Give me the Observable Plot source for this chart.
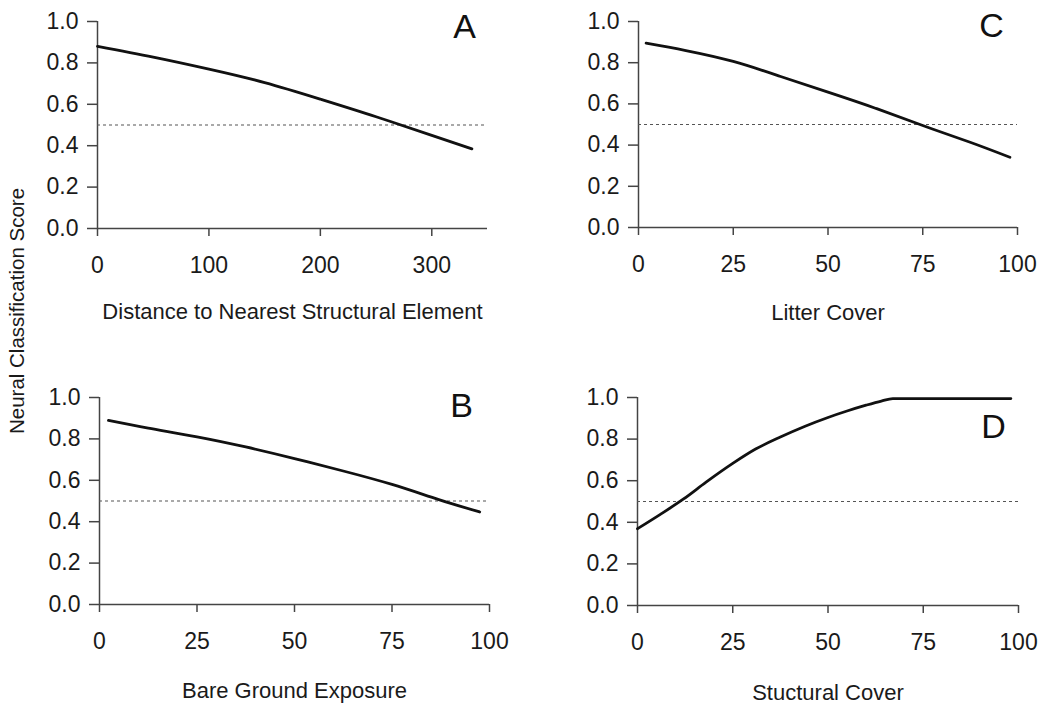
<!DOCTYPE html>
<html><head><meta charset="utf-8">
<script src="https://cdn.jsdelivr.net/npm/d3@7"></script>
<script src="https://cdn.jsdelivr.net/npm/@observablehq/plot@0.6"></script>
<style>
body{margin:0;background:#fff;}
#wrap{position:relative;width:1049px;height:705px;background:#fff;font-family:"Liberation Sans",Arial,sans-serif;overflow:hidden;}
.panel{position:absolute;}
#ylab{position:absolute;left:17px;top:311px;transform:translate(-50%,-50%) rotate(-90deg);font-size:20.5px;white-space:nowrap;color:#1a1a1a;}
</style></head><body>
<div id="wrap"><div id="ylab">Neural Classification Score</div></div>
<script>
// Panel A: Distance to Nearest Structural Element
const distanceX = [0, 50, 100, 150, 200, 250, 300, 336];
const distanceY = [0.88, 0.828, 0.77, 0.705, 0.625, 0.54, 0.45, 0.385];
const distanceTicks = [0, 100, 200, 300];

// Panel C: Litter Cover
const litterX = [2, 12.5, 25, 37.5, 50, 62.5, 75, 87.5, 98];
const litterY = [0.895, 0.859, 0.806, 0.733, 0.657, 0.579, 0.495, 0.414, 0.341];

// Panel B: Bare Ground Exposure
const bareX = [2.3, 12.5, 25, 37.5, 50, 62.5, 75, 87, 97.5];
const bareY = [0.889, 0.852, 0.81, 0.761, 0.705, 0.645, 0.58, 0.507, 0.447];

// Panel D: Stuctural Cover
const structX = [0, 6, 12, 18, 25, 31, 37.5, 44, 50, 55, 60, 64, 67, 80, 98];
const structY = [0.369, 0.438, 0.511, 0.593, 0.683, 0.752, 0.81, 0.862, 0.904, 0.935, 0.963, 0.983, 0.995, 0.995, 0.995];

const percentTicks = [0, 25, 50, 75, 100];
const scoreTicks = [0, 0.2, 0.4, 0.6, 0.8, 1.0];
const threshold = 0.5;

const panels = [
  {letter:"A", label:"Distance to Nearest Structural Element", xs:distanceX, ys:distanceY, domain:[0,350], ticks:distanceTicks, curve:"natural",
   left:0, top:0, width:524, height:340, mt:21, mb:112, ml:97, mr:37, ldx:-23, ldy:-8, labDy:90},
  {letter:"C", label:"Litter Cover", xs:litterX, ys:litterY, domain:[0,100], ticks:percentTicks, curve:"natural",
   left:524, top:0, width:525, height:340, mt:21, mb:113, ml:114, mr:32, ldx:-26, ldy:-9, labDy:92},
  {letter:"B", label:"Bare Ground Exposure", xs:bareX, ys:bareY, domain:[0,100], ticks:percentTicks, curve:"natural",
   left:0, top:350, width:524, height:355, mt:47, mb:101, ml:99, mr:35, ldx:-28, ldy:-5, labDy:93},
  {letter:"D", label:"Stuctural Cover", xs:structX, ys:structY, domain:[0,100], ticks:percentTicks, curve:"monotone-x",
   left:524, top:350, width:525, height:355, mt:47, mb:100, ml:113, mr:31, ldx:-25, ldy:16, labDy:94}
];

const wrap = document.getElementById("wrap");
for (const p of panels) {
  const data = p.xs.map((x, i) => ({x, y: p.ys[i]}));
  const chart = Plot.plot({
    width: p.width, height: p.height,
    marginTop: p.mt, marginBottom: p.mb, marginLeft: p.ml, marginRight: p.mr,
    x: {domain: p.domain},
    y: {domain: [0, 1]},
    style: {fontFamily: '"Liberation Sans", Arial, sans-serif', fontSize: "23px", color: "#1a1a1a", background: "transparent", overflow: "visible"},
    marks: [
      Plot.axisX({ticks: p.ticks, tickSize: 8, tickPadding: 20, label: null, stroke: "#444", strokeWidth: 1.5, fontSize: 23}),
      Plot.axisY({ticks: scoreTicks, tickSize: 10, tickPadding: 9, tickFormat: d3.format(".1f"), label: null, stroke: "#444", strokeWidth: 1.5, fontSize: 23}),
      Plot.ruleY([0], {stroke: "#444", strokeWidth: 1.5}),
      Plot.ruleX([0], {stroke: "#444", strokeWidth: 1.5}),
      Plot.ruleY([threshold], {stroke: "#555", strokeWidth: 1.2, strokeDasharray: "3,3"}),
      Plot.line(data, {x: "x", y: "y", curve: p.curve, stroke: "#111", strokeWidth: 2.8}),
      Plot.text([p.letter], {frameAnchor: "top-right", dx: p.ldx, dy: p.ldy, textAnchor: "middle", lineAnchor: "top", fontSize: 34, fill: "#111"}),
      Plot.text([p.label], {frameAnchor: "bottom", dy: p.labDy, lineAnchor: "bottom", fontSize: 22, fill: "#1a1a1a"})
    ]
  });
  chart.classList.add("panel");
  chart.style.left = p.left + "px";
  chart.style.top = p.top + "px";
  chart.style.position = "absolute";
  wrap.appendChild(chart);
}
</script>
</body></html>
